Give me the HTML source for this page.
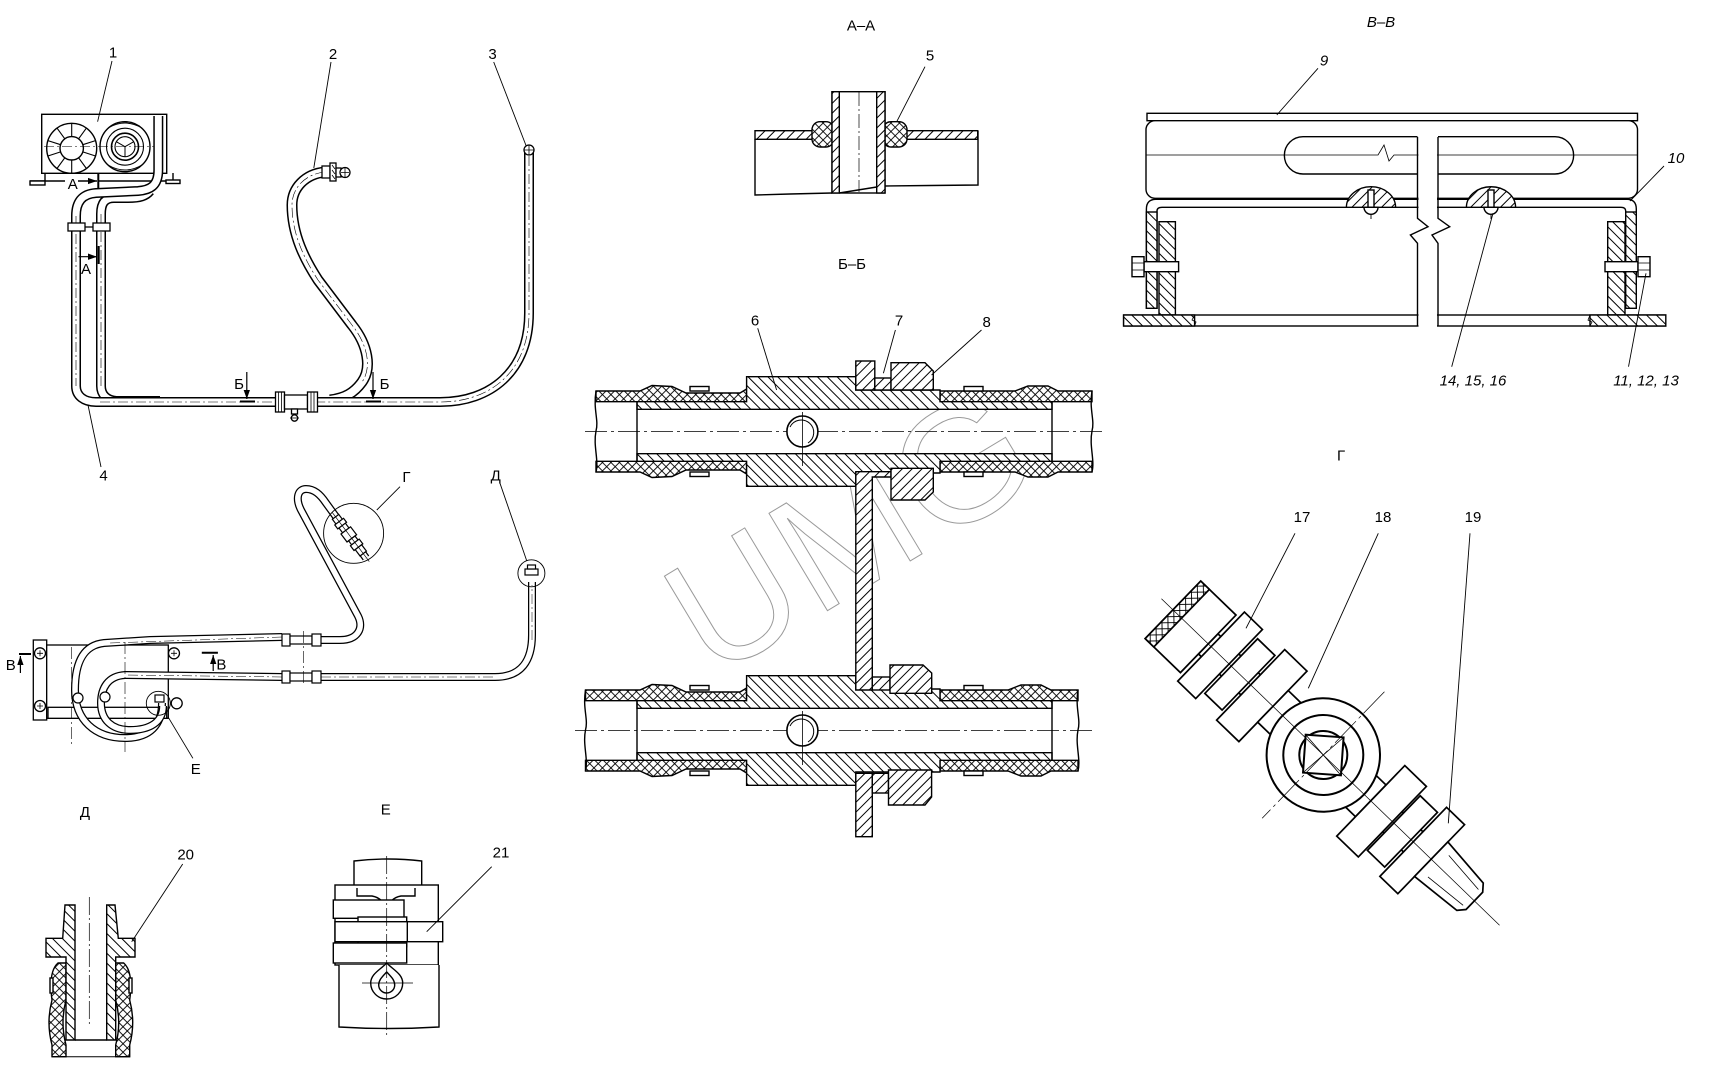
<!DOCTYPE html>
<html><head><meta charset="utf-8"><style>
html,body{margin:0;padding:0;background:#fff;}
svg{display:block;}
text{font-family:"Liberation Sans",sans-serif;fill:#000;stroke:none;}
</style></head><body>
<svg xmlns="http://www.w3.org/2000/svg" xmlns:xlink="http://www.w3.org/1999/xlink" width="1716" height="1070" viewBox="0 0 1716 1070">
<defs>
<pattern id="hr" patternUnits="userSpaceOnUse" width="7" height="7" patternTransform="rotate(45)"><rect width="7" height="7" fill="#fff"/><line x1="3.5" y1="0" x2="3.5" y2="7" stroke="#000" stroke-width="1"/></pattern>
<pattern id="hl" patternUnits="userSpaceOnUse" width="7" height="7" patternTransform="rotate(-45)"><rect width="7" height="7" fill="#fff"/><line x1="3.5" y1="0" x2="3.5" y2="7" stroke="#000" stroke-width="1"/></pattern>
<pattern id="hx" patternUnits="userSpaceOnUse" width="6" height="6" patternTransform="rotate(45)"><rect width="6" height="6" fill="#fff"/><line x1="3" y1="0" x2="3" y2="6" stroke="#000" stroke-width="0.9"/><line x1="0" y1="3" x2="6" y2="3" stroke="#000" stroke-width="0.9"/></pattern>
<marker id="ar" viewBox="0 0 10 10" refX="10" refY="5" markerWidth="9" markerHeight="9" orient="auto" markerUnits="userSpaceOnUse"><path d="M0,1.5 L10,5 L0,8.5 Z" fill="#000"/></marker>

<g id="core" stroke="#000" stroke-width="1.4">
  <polygon fill="url(#hl)" points="637,401.7 746.6,401.7 746.6,376.7 855.8,376.7 855.8,390 940,390 940,401.7 1052,401.7 1052,409.3 637,409.3"/>
  <polygon fill="url(#hl)" points="637,461.3 746.6,461.3 746.6,486.3 855.8,486.3 855.8,473 940,473 940,461.3 1052,461.3 1052,453.7 637,453.7"/>
  <line x1="637" y1="401.7" x2="637" y2="461.3"/>
  <line x1="1052" y1="401.7" x2="1052" y2="461.3"/>
  <circle cx="802.4" cy="431.5" r="15.5" fill="#fff" stroke-width="1.6"/>
  <path d="M790,427 A12.5,12.5 0 1 1 808,443" fill="none" stroke-width="1"/>
  <line x1="802.4" y1="412" x2="802.4" y2="466" stroke-width="0.8"/>
  <rect x="690" y="386.5" width="19" height="4.5" fill="#fff"/>
  <rect x="690" y="472" width="19" height="4.5" fill="#fff"/>
  <rect x="964" y="386.5" width="19" height="4.5" fill="#fff"/>
  <rect x="964" y="472" width="19" height="4.5" fill="#fff"/>
</g>
</defs>

<!-- ===== Watermark ===== -->
<text x="712" y="680" transform="rotate(-31 712 680)" font-family="DejaVu Sans, sans-serif" font-size="165" letter-spacing="2" style="fill:none;stroke:#9a9a9a;stroke-width:1">UMG</text>

<!-- ===== Top-left view ===== -->
<g fill="none" stroke="#000" stroke-width="1.4">
  <rect x="41.7" y="114.3" width="125" height="59" fill="#fff"/>
  <circle cx="71.7" cy="148.3" r="25"/>
  <circle cx="71.7" cy="148.3" r="11.7"/>
  <path stroke-width="1.1" d="M82.8,151.9L95.5,156M78.6,157.8L86.4,168.5M71.7,160L71.7,173.3M64.8,157.8L57,168.5M60.6,151.9L47.9,156M60.6,144.7L47.9,140.6M64.8,138.8L57,128.1M71.7,136.6L71.7,123.3M78.6,138.8L86.4,128.1M82.8,144.7L95.5,140.6"/>
  <circle cx="125" cy="146.7" r="25"/>
  <circle cx="125" cy="146.7" r="18.5" stroke-width="1.1"/>
  <circle cx="125" cy="146.7" r="13.5" stroke-width="1.6"/>
  <circle cx="125" cy="146.7" r="10" stroke-width="1.1"/>
  <path stroke-width="1" d="M125,146.7L125,156.7M125,146.7L116.3,141.7M125,146.7L133.7,141.7M108,128 Q125,118 142,128 M108,165 Q125,175 142,165"/>
  <line x1="44" y1="146.5" x2="162" y2="146.5" stroke-width="0.6" stroke-dasharray="10 3 2 3"/>
  <line x1="30" y1="181" x2="65" y2="181"/>
  <line x1="99" y1="181" x2="180" y2="181"/>
  <line x1="78" y1="181" x2="97" y2="181" marker-end="url(#ar)"/>
  <rect x="30" y="181" width="15" height="4" fill="#fff"/>
  <line x1="45" y1="174" x2="45" y2="181"/>
  <rect x="166" y="180" width="14" height="3.5" fill="#fff"/>
  <line x1="173" y1="173" x2="173" y2="180"/>
  <line x1="98.3" y1="173.3" x2="98.3" y2="189" stroke-width="2"/>
</g>
<g fill="none" stroke-linejoin="round">
  <path d="M150,191 C146,196 140,198 128,198 L114,198 C104,198 101,204 101,214 L101,386 C101,394 106,400 116,401 L160,401" stroke="#000" stroke-width="10"/>
  <path d="M150,191 C146,196 140,198 128,198 L114,198 C104,198 101,204 101,214 L101,386 C101,394 106,400 116,401 L160,401" stroke="#fff" stroke-width="7"/>
  <path d="M158.3,116 L158.3,170 C158.3,186 150,190 138,191 L96,193 C82,194 76,202 76,216 L76,386 C76,396 84,402 96,402 L276,402" stroke="#000" stroke-width="10"/>
  <path d="M158.3,116 L158.3,170 C158.3,186 150,190 138,191 L96,193 C82,194 76,202 76,216 L76,386 C76,396 84,402 96,402 L276,402" stroke="#fff" stroke-width="7"/>
  <path d="M101,214 L101,386 M76,216 L76,386 M100,402 L276,402" stroke="#000" stroke-width="0.6" stroke-dasharray="10 3 2 3"/>
  <path d="M325,172 C305,174 292,188 292,205 C292,235 305,260 318,280 L352,325 C368,345 372,368 362,382 C354,393 345,398 330,400" stroke="#000" stroke-width="11"/>
  <path d="M325,172 C305,174 292,188 292,205 C292,235 305,260 318,280 L352,325 C368,345 372,368 362,382 C354,393 345,398 330,400" stroke="#fff" stroke-width="8"/>
  <path d="M325,172 C305,174 292,188 292,205 C292,235 305,260 318,280 L352,325 C368,345 372,368 362,382" stroke="#000" stroke-width="0.6" stroke-dasharray="10 3 2 3"/>
  <path d="M529,150 L529,313 C529,372 490,402 440,402 L318,402" stroke="#000" stroke-width="10"/>
  <path d="M529,150 L529,313 C529,372 490,402 440,402 L318,402" stroke="#fff" stroke-width="7"/>
  <path d="M529,156 L529,313 C529,372 490,402 440,402 L318,402" stroke="#000" stroke-width="0.6" stroke-dasharray="10 3 2 3"/>
</g>
<g fill="#fff" stroke="#000" stroke-width="1.3">
  <rect x="68" y="223" width="17" height="8"/>
  <rect x="93" y="223" width="17" height="8"/>
  <line x1="85" y1="227" x2="93" y2="227"/>
  <circle cx="529" cy="150" r="5"/>
  <path d="M524,150H534M529,145V155" stroke-width="0.8"/>
  <rect x="322" y="166" width="8" height="12"/>
  <rect x="330" y="163" width="6" height="18"/>
  <path d="M332,165L335,169M332,170L335,174M332,175L335,179" stroke-width="0.8"/>
  <rect x="336" y="168" width="5" height="9"/>
  <circle cx="345" cy="172.5" r="5"/>
  <path d="M341,172.5H349M345,168V177" stroke-width="0.8"/>
  <rect x="275.5" y="392" width="9" height="20"/>
  <rect x="284.5" y="395" width="23" height="14"/>
  <rect x="307.5" y="392" width="10" height="20"/>
  <path d="M278.5,392V412M281.5,392V412M311,392V412M314,392V412" stroke-width="0.8"/>
  <rect x="291.5" y="409" width="6" height="5"/>
  <circle cx="294.5" cy="418" r="3.2"/>
  <path d="M290,418H299" stroke-width="0.8"/>
</g>
<g fill="none" stroke="#000">
  <line x1="78.5" y1="256.7" x2="97" y2="256.7" stroke-width="1.2" marker-end="url(#ar)"/>
  <line x1="98.7" y1="246" x2="98.7" y2="264" stroke-width="2"/>
  <line x1="246.8" y1="372" x2="246.8" y2="399" stroke-width="1.2" marker-end="url(#ar)"/>
  <line x1="240" y1="401.5" x2="255" y2="401.5" stroke-width="2"/>
  <line x1="373" y1="372" x2="373" y2="399" stroke-width="1.2" marker-end="url(#ar)"/>
  <line x1="366" y1="401.5" x2="381" y2="401.5" stroke-width="2"/>
  <g stroke-width="0.9">
    <line x1="112" y1="61" x2="97.6" y2="121.7"/>
    <line x1="331" y1="62" x2="313.8" y2="168"/>
    <line x1="493.7" y1="62" x2="526.2" y2="146"/>
    <line x1="88" y1="405" x2="101" y2="467"/>
  </g>
</g>
<g font-size="15" text-anchor="middle">
  <text x="113" y="57.5">1</text>
  <text x="333" y="59">2</text>
  <text x="492.5" y="59">3</text>
  <text x="103.6" y="480.5">4</text>
  <text x="72.7" y="189">А</text>
  <text x="86" y="274">А</text>
  <text x="239" y="389">Б</text>
  <text x="384.6" y="389">Б</text>
</g>

<!-- ===== A-A ===== -->
<g stroke="#000" stroke-width="1.4">
  <rect x="755" y="130.7" width="77" height="8.6" fill="url(#hr)"/>
  <rect x="885" y="130.7" width="92.7" height="8.6" fill="url(#hr)"/>
  <path d="M755,139.3 L755,195 L790,194 L832,193 M885,186 L930,185.5 L978,185 L978,130.7" fill="none"/>
  <rect x="812" y="121.7" width="22" height="25.3" rx="8" fill="url(#hx)"/>
  <rect x="883" y="121.7" width="24" height="25.3" rx="8" fill="url(#hx)"/>
  <rect x="832" y="91.7" width="53" height="101.3" fill="#fff"/>
  <rect x="832" y="91.7" width="7.3" height="101.3" fill="url(#hr)"/>
  <rect x="876.7" y="91.7" width="8.3" height="101.3" fill="url(#hr)"/>
  <path d="M839.3,193 L876.7,187" fill="none" stroke-width="1.4"/>
  <line x1="859" y1="92" x2="859" y2="192" stroke-width="0.7" stroke-dasharray="14 3 2 3"/>
  <line x1="925" y1="66.7" x2="896.7" y2="121.7" stroke-width="0.9"/>
</g>
<g font-size="15" text-anchor="middle">
  <text x="861" y="30.5">А–А</text>
  <text x="930" y="60.5">5</text>
  <text x="852" y="269">Б–Б</text>
</g>

<!-- ===== Б-Б ===== -->
<!-- upper hoses -->
<g stroke="#000" stroke-width="1.4">
  <polygon fill="url(#hx)" points="596,391 640,391 652,385.5 672,386.5 686,393 740,393 746.6,389 746.6,401.7 596,401.7"/>
  <polygon fill="url(#hx)" points="940,391 1015,391 1028,386 1048,386 1058,391 1092,391 1092,401.7 940,401.7"/>
  <polygon fill="url(#hx)" points="596,472 640,472 652,477.5 672,476.5 686,470 740,470 746.6,474 746.6,461.3 596,461.3"/>
  <polygon fill="url(#hx)" points="940,472 1015,472 1028,477 1048,477 1058,472 1092,472 1092,461.3 940,461.3"/>
  <path d="M596,391 C593,410 599,420 596,431 C593,446 599,460 596,472" fill="none"/>
  <path d="M1092,391 C1089,410 1095,420 1092,431 C1089,446 1095,460 1092,472" fill="none"/>
  <line x1="585" y1="431.5" x2="1105" y2="431.5" stroke-width="0.8" stroke-dasharray="22 4 3 4"/>
</g>
<!-- lower hoses -->
<g stroke="#000" stroke-width="1.4">
  <polygon fill="url(#hx)" points="585.5,690 640,690 652,684.5 672,685.5 686,692 740,692 746.6,688 746.6,700.7 585.5,700.7"/>
  <polygon fill="url(#hx)" points="940,690 1008,690 1021,685 1041,685 1051,690 1078,690 1078,700.7 940,700.7"/>
  <polygon fill="url(#hx)" points="585.5,771 640,771 652,776.5 672,775.5 686,769 740,769 746.6,773 746.6,760.3 585.5,760.3"/>
  <polygon fill="url(#hx)" points="940,771 1008,771 1021,776 1041,776 1051,771 1078,771 1078,760.3 940,760.3"/>
  <path d="M585.5,690 C582.5,709 588.5,719 585.5,730 C582.5,745 588.5,759 585.5,771" fill="none"/>
  <path d="M1078,690 C1075,709 1081,719 1078,730 C1075,745 1081,759 1078,771" fill="none"/>
  <line x1="575" y1="730.5" x2="1092" y2="730.5" stroke-width="0.8" stroke-dasharray="22 4 3 4"/>
</g>
<use xlink:href="#core"/>
<use xlink:href="#core" y="299"/>
<g stroke="#000" stroke-width="1.4">
  <rect x="855.8" y="361" width="19" height="29" fill="url(#hr)"/>
  <rect x="874.8" y="378" width="16.2" height="12" fill="url(#hr)"/>
  <polygon points="891,362.7 925,362.7 933.3,371 933.3,390 891,390" fill="url(#hr)"/>
  <polygon points="855.8,471.7 891,471.7 891,477 872.3,477 872.3,690 855.8,690" fill="url(#hr)"/>
  <polygon points="891,468.3 933.3,468.3 933.3,492 925,500 891,500" fill="url(#hr)"/>
  <rect x="872.3" y="677" width="17.7" height="13" fill="url(#hr)"/>
  <polygon points="890,665 923,665 931.7,673 931.7,693.3 890,693.3" fill="url(#hr)"/>
  <rect x="855.8" y="773.3" width="16.5" height="63.4" fill="url(#hr)"/>
  <rect x="872.3" y="773.3" width="16.2" height="19.7" fill="url(#hr)"/>
  <polygon points="888.5,770 931.6,770 931.6,797 925,805 888.5,805" fill="url(#hr)"/>
  <g stroke-width="0.9">
    <line x1="757.7" y1="328.3" x2="776.6" y2="390"/>
    <line x1="895.4" y1="330" x2="883.4" y2="373.3"/>
    <line x1="981.5" y1="330" x2="931.6" y2="375"/>
  </g>
</g>
<g font-size="15" text-anchor="middle">
  <text x="755" y="325.5">6</text>
  <text x="899" y="325.5">7</text>
  <text x="986.7" y="327">8</text>
</g>

<!-- ===== В-В ===== -->
<g stroke="#000" stroke-width="1.4" fill="#fff">
  <rect x="1147" y="113.3" width="490.5" height="7.4"/>
  <rect x="1146" y="120.7" width="491.5" height="77.6" rx="9"/>
  <path d="M1417.5,136.7 L1303,136.7 A18.65,18.65 0 0 0 1303,174 L1417.5,174 M1438,136.7 L1555,136.7 A18.65,18.65 0 0 1 1555,174 L1438,174" fill="none"/>
  <path d="M1146,155 L1378,155 L1384,145 L1389,161 L1394,155 L1637,155" fill="none" stroke-width="0.8"/>
  <path d="M1146.4,308.3 L1146.4,209 Q1146.4,199.3 1156,199.3 L1627,199.3 Q1636.3,199.3 1636.3,209 L1636.3,308.3 L1625.7,308.3 L1625.7,211 Q1625.7,207.3 1621,207.3 L1162,207.3 Q1157,207.3 1157,211 L1157,308.3 Z"/>
  <rect x="1146.4" y="212" width="10.6" height="96.3" fill="url(#hl)"/>
  <rect x="1625.7" y="212" width="10.6" height="96.3" fill="url(#hl)"/>
  <path d="M1346.4,207.3 A24.6,20.6 0 0 1 1395.6,207.3 Z" fill="url(#hr)"/>
  <path d="M1466.4,207.3 A24.6,20.6 0 0 1 1515.6,207.3 Z" fill="url(#hr)"/>
  <rect x="1368" y="190" width="6" height="17.3"/>
  <rect x="1488" y="190" width="6" height="17.3"/>
  <path d="M1364,207.3 A7,7 0 0 0 1378,207.3 Z M1484,207.3 A7,7 0 0 0 1498,207.3 Z"/>
  <path d="M1371,214 V219 M1491,214 V219" stroke-width="0.9"/>
  <rect x="1159" y="221.7" width="16.4" height="93.3" fill="url(#hl)"/>
  <rect x="1607.7" y="221.7" width="17.3" height="93.3" fill="url(#hl)"/>
  <rect x="1144" y="261.7" width="34.6" height="10"/>
  <rect x="1132" y="256.7" width="12" height="20"/>
  <path d="M1132,263H1144M1132,270H1144" stroke-width="0.8"/>
  <rect x="1605" y="261.7" width="33" height="10"/>
  <rect x="1638" y="256.7" width="12" height="20"/>
  <path d="M1638,263H1650M1638,270H1650" stroke-width="0.8"/>
  <rect x="1123.6" y="315" width="542.2" height="11"/>
  <rect x="1123.6" y="315" width="71" height="11" fill="url(#hl)"/>
  <rect x="1590" y="315" width="75.8" height="11" fill="url(#hl)"/>
  <path d="M1194.6,315 L1192,320 L1196,322 L1194.6,326 M1590,315 L1588,320 L1592,322 L1590,326" fill="none" stroke-width="0.8"/>
  <rect x="1418.5" y="136" width="18.5" height="192" stroke="none"/>
  <path d="M1417.5,137 L1417.5,218.3 L1428,226.7 L1410.4,235 L1417.5,243.3 L1417.5,326 M1438,137 L1438,218.3 L1449.7,226.7 L1432,235 L1438,243.3 L1438,326" fill="none"/>
  <g stroke-width="0.9" fill="none">
    <line x1="1318" y1="68.3" x2="1276.8" y2="115"/>
    <line x1="1664" y1="166" x2="1630" y2="201"/>
    <line x1="1451.7" y1="366.7" x2="1493" y2="213.3"/>
    <line x1="1628.5" y1="366.7" x2="1646" y2="273.3"/>
  </g>
</g>
<g font-size="15" text-anchor="middle" font-style="italic">
  <text x="1381" y="27">В–В</text>
  <text x="1324" y="65.5">9</text>
  <text x="1676" y="163">10</text>
  <text x="1473" y="385.5">14, 15, 16</text>
  <text x="1646" y="385.5">11, 12, 13</text>
</g>

<!-- ===== Г detail ===== -->
<g transform="translate(1323.3,755) rotate(44)" stroke="#000" stroke-width="1.7" fill="#fff">
  <rect x="-160" y="-14" width="310" height="28"/>
  <rect x="-209" y="-40" width="49" height="80"/>
  <rect x="-209" y="-40" width="12" height="80" fill="url(#hx)"/>
  <rect x="-156" y="-48" width="25" height="96"/>
  <rect x="-128" y="-38" width="24" height="76"/>
  <rect x="-101" y="-49" width="31" height="98"/>
  <rect x="-70" y="-22" width="20" height="44"/>
  <rect x="50" y="-22" width="16" height="44"/>
  <rect x="66" y="-49" width="30" height="98"/>
  <rect x="98" y="-38" width="24" height="76"/>
  <rect x="125" y="-48" width="25" height="96"/>
  <path d="M150,-24 L204,-19 L210,-12 L210,12 L204,19 L150,24 Z"/>
  <path d="M160,-15 L205,-11 M160,15 L205,11" stroke-width="0.8" fill="none"/>
  <circle r="56.7" stroke-width="2"/>
  <circle r="40" stroke-width="2"/>
  <circle r="24" stroke-width="2"/>
  <g transform="rotate(-40)">
    <rect x="-19" y="-19" width="38" height="38" stroke-width="2"/>
    <path d="M-19,-19 L19,19 M19,-19 L-19,19" stroke-width="0.8" fill="none"/>
  </g>
  <line x1="-225" y1="0" x2="245" y2="0" stroke-width="0.7"/>
  <line x1="0" y1="-88" x2="0" y2="88" stroke-width="0.7" stroke-dasharray="30 4 3 4"/>
</g>
<g stroke="#000" stroke-width="0.9">
  <line x1="1295" y1="533.3" x2="1246" y2="628.3"/>
  <line x1="1378.3" y1="533.3" x2="1308.3" y2="688.3"/>
  <line x1="1470" y1="533.3" x2="1448.3" y2="823.3"/>
</g>
<g font-size="15" text-anchor="middle">
  <text x="1341" y="460.5">Г</text>
  <text x="1302" y="522">17</text>
  <text x="1383" y="522">18</text>
  <text x="1473" y="522">19</text>
</g>

<!-- ===== Left-middle view ===== -->
<g stroke="#000" stroke-width="1.3" fill="#fff">
  <rect x="33.3" y="640" width="13.4" height="80"/>
  <rect x="46.7" y="645" width="121.6" height="73.3"/>
  <rect x="48" y="707.3" width="118.7" height="11"/>
  <circle cx="40" cy="653.3" r="5.5"/><circle cx="40" cy="706" r="5.5"/>
  <circle cx="174" cy="653.3" r="5.5"/><circle cx="176.7" cy="703.3" r="5.5"/>
  <path d="M37,653.3H43M40,650.3V656.3M37,706H43M40,703V709M171,653.3H177M174,650.3V656.3" stroke-width="0.8" fill="none"/>
</g>
<g fill="none" stroke-linejoin="round">
  <path d="M282,637 L150,640 L104,643 C85,645 75,660 75,690 C75,720 95,738 125,738 C150,738 162,725 162,703" stroke="#000" stroke-width="8"/>
  <path d="M282,637 L150,640 L104,643 C85,645 75,660 75,690 C75,720 95,738 125,738 C150,738 162,725 162,703" stroke="#fff" stroke-width="5.5"/>
  <path d="M282,677 L125,675 C108,676 101,688 101,703 C101,720 112,730 130,730 C150,730 163,722 163,706" stroke="#000" stroke-width="8"/>
  <path d="M282,677 L125,675 C108,676 101,688 101,703 C101,720 112,730 130,730 C150,730 163,722 163,706" stroke="#fff" stroke-width="5.5"/>
  <path d="M321,640 L340,640 C358,640 364,628 358,616 L301,510 C295,498 298,489 306,489 C314,489 320,494 326,503 L366,558" stroke="#000" stroke-width="8"/>
  <path d="M321,640 L340,640 C358,640 364,628 358,616 L301,510 C295,498 298,489 306,489 C314,489 320,494 326,503 L366,558" stroke="#fff" stroke-width="5.5"/>
  <path d="M321,677 L495,677 C522,677 532,660 532,635 L532,582" stroke="#000" stroke-width="8"/>
  <path d="M321,677 L495,677 C522,677 532,660 532,635 L532,582" stroke="#fff" stroke-width="5.5"/>
  <path d="M282,637 L110,643 M282,677 L125,675 M321,677 L495,677 M532,640 L532,585" stroke="#000" stroke-width="0.5" stroke-dasharray="10 3 2 3"/>
</g>
<g stroke="#000" stroke-width="1.2" fill="#fff">
  <circle cx="78" cy="698" r="5"/><circle cx="105" cy="697" r="5"/>
  <rect x="282" y="634" width="8" height="12"/><rect x="290" y="636" width="22" height="8"/><rect x="312" y="634" width="9" height="12"/>
  <rect x="282" y="671" width="8" height="12"/><rect x="290" y="673" width="22" height="8"/><rect x="312" y="671" width="9" height="12"/>
  <circle cx="158.3" cy="703.3" r="12" fill="none" stroke-width="0.9"/>
  <rect x="155" y="695" width="9" height="7"/>
  <circle cx="353.6" cy="533.3" r="30" fill="none" stroke-width="0.9"/>
  <g transform="translate(350,536) rotate(53)">
    <rect x="-24" y="-4" width="6" height="8"/><rect x="-18" y="-5.5" width="5" height="11"/><rect x="-13" y="-4" width="6" height="8"/>
    <rect x="-7" y="-6" width="10" height="12"/><rect x="3" y="-4" width="5" height="8"/><rect x="8" y="-5.5" width="6" height="11"/><rect x="14" y="-4" width="8" height="8"/>
    <line x1="-30" y1="0" x2="32" y2="0" stroke-width="0.7"/>
  </g>
  <circle cx="531.4" cy="573.3" r="13.5" fill="none" stroke-width="0.9"/>
  <rect x="525" y="569" width="13" height="6"/><rect x="527.5" y="565" width="8" height="4"/>
</g>
<g stroke="#000" fill="none">
  <path d="M71.7,647V745M125,642V752M303.6,631V684" stroke-width="0.6" stroke-dasharray="12 3 2 3"/>
  <line x1="20.4" y1="673" x2="20.4" y2="656" stroke-width="1.2" marker-end="url(#ar)"/>
  <line x1="19" y1="654" x2="31" y2="654" stroke-width="2"/>
  <line x1="213.2" y1="671" x2="213.2" y2="655" stroke-width="1.2" marker-end="url(#ar)"/>
  <line x1="201.8" y1="652.7" x2="217.9" y2="652.7" stroke-width="2"/>
  <g stroke-width="0.9">
    <line x1="400" y1="486.7" x2="376.8" y2="510"/>
    <line x1="500" y1="483.3" x2="526.8" y2="561"/>
    <line x1="192.9" y1="758.3" x2="167.9" y2="716.7"/>
  </g>
</g>
<g font-size="15" text-anchor="middle">
  <text x="406.4" y="482">Г</text>
  <text x="495.7" y="480.5">Д</text>
  <text x="10.7" y="670">В</text>
  <text x="221.4" y="669.5">В</text>
  <text x="195.7" y="774">Е</text>
</g>

<!-- ===== Д detail ===== -->
<g stroke="#000" stroke-width="1.4">
  <path d="M58,963 C50,970 50,985 52,1000 C48,1015 48,1030 52,1045 L52,1056.7 L66,1056.7 L66,1045 C62,1030 62,1015 66,1000 L66,963 Z" fill="url(#hx)"/>
  <path d="M123.7,963 C131.7,970 131.7,985 129.7,1000 C133.7,1015 133.7,1030 129.7,1045 L129.7,1056.7 L115.7,1056.7 L115.7,1045 C119.7,1030 119.7,1015 115.7,1000 L115.7,963 Z" fill="url(#hx)"/>
  <line x1="52" y1="1056.7" x2="130" y2="1056.7" stroke-width="1"/>
  <polygon points="65,905 75,905 75,1040 66,1040 66,957 46,957 46,938.3 62.7,938.3" fill="url(#hl)"/>
  <polygon points="115,905 106.7,905 106.7,1040 115.7,1040 115.7,957 135,957 135,938.3 118.3,938.3" fill="url(#hl)"/>
  <line x1="75" y1="1040" x2="106.7" y2="1040"/>
  <rect x="50" y="978" width="3" height="15" fill="#fff"/>
  <rect x="129" y="978" width="3" height="15" fill="#fff"/>
  <line x1="89.3" y1="897" x2="89.3" y2="1025" stroke-width="0.7" stroke-dasharray="18 3 2 3"/>
  <line x1="182.7" y1="864" x2="131.7" y2="941.7" stroke-width="0.9"/>
</g>

<!-- ===== Е detail ===== -->
<g stroke="#000" stroke-width="1.4" fill="#fff">
  <path d="M354,885 L354,861 Q388,857 421.7,861 L421.7,885"/>
  <rect x="335" y="885" width="103.3" height="80"/>
  <path d="M339,965 L339,1027 Q390,1030 439,1027 L439,965"/>
  <path d="M357,888 L357,896 L372,896 Q384,898 386.7,912 Q389,898 401,896 L415,896 L415,888" fill="none"/>
  <rect x="333.3" y="900" width="70.7" height="18.3"/>
  <rect x="358" y="917" width="48.7" height="5"/>
  <rect x="335" y="921.7" width="107.7" height="20"/>
  <line x1="407.3" y1="921.7" x2="407.3" y2="941.7"/>
  <rect x="358" y="941.7" width="48.7" height="5"/>
  <rect x="333.3" y="943" width="73.4" height="20"/>
  <path d="M386.7,963 C380,970 370.7,974 370.7,983 A16,16 0 0 0 402.7,983 C402.7,974 393.4,970 386.7,963 Z"/>
  <path d="M386.7,972 C382,977 378.7,980 378.7,985 A8,8 0 0 0 394.7,985 C394.7,980 391.4,977 386.7,972 Z"/>
  <line x1="386.7" y1="856" x2="386.7" y2="1036" stroke-width="0.7" stroke-dasharray="18 3 2 3"/>
  <line x1="362" y1="983" x2="413" y2="983" stroke-width="0.8"/>
  <line x1="491.7" y1="866.7" x2="426.7" y2="931.7" stroke-width="0.9"/>
</g>
<g font-size="15" text-anchor="middle">
  <text x="85" y="817">Д</text>
  <text x="385.7" y="814.5">Е</text>
  <text x="185.7" y="859.5">20</text>
  <text x="501" y="857.5">21</text>
</g>
</svg>
</body></html>
